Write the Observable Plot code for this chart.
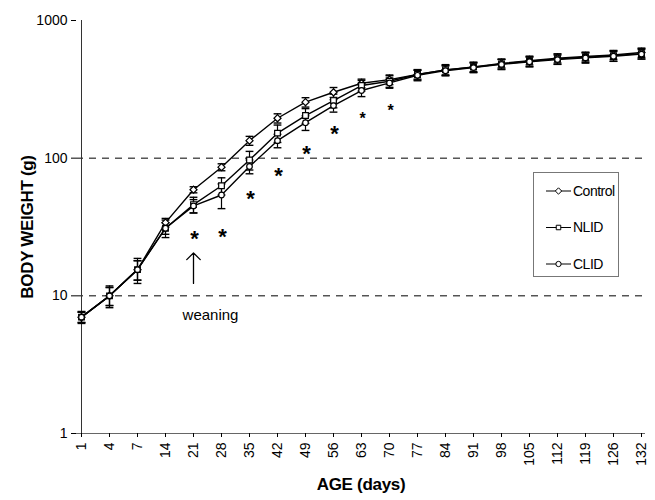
<!DOCTYPE html>
<html>
<head>
<meta charset="utf-8">
<script src="https://cdn.jsdelivr.net/npm/d3@7"></script>
<script src="https://cdn.jsdelivr.net/npm/@observablehq/plot@0.6"></script>
<style>
  html, body { margin: 0; padding: 0; background: #fff; }
  #wrap { position: relative; width: 655px; height: 500px; font-family: "Liberation Sans", Arial, sans-serif; }
  #wrap svg [aria-label="x-axis label"] text, #wrap svg [aria-label="y-axis label"] text { font-weight: bold; font-size: 17px; letter-spacing: -0.3px; }
  #legend { position: absolute; left: 533px; top: 172px; width: 84px; height: 103px; border: 1px solid #777; background: #fff; }
</style>
</head>
<body>
<div id="wrap"></div>
<script>
const ages = ["1","4","7","14","21","28","35","42","49","56","63","70","77","84","91","98","105","112","119","126","132"];
const control = [7, 10, 15.5, 34, 59, 86, 134, 195, 255, 301, 350, 372, 405, 438, 460, 488, 510, 532, 548, 562, 585];
const nlid    = [7, 10, 15.5, 31, 46, 63, 97, 152, 204, 262, 337, 362, 405, 438, 458, 484, 506, 526, 541, 556, 575];
const clid    = [7, 10, 15.5, 31, 45, 54, 87, 134, 181, 241, 310, 352, 400, 432, 455, 480, 502, 520, 535, 550, 570];
const controlErr = [0.6, 1.5, 2.5, 2.5, 3, 5, 10, 15, 20, 25, 25, 30, 30, 35, 35, 35, 35, 40, 40, 40, 45];
const nlidErr    = [0.7, 1.8, 3.2, 4.5, 6, 9, 15, 22, 25, 30, 30, 35, 35, 40, 40, 40, 45, 45, 45, 50, 50];
const clidErr    = [0.6, 1.5, 2.5, 3, 5, 11, 10, 15, 22, 25, 30, 30, 35, 35, 35, 40, 40, 40, 45, 45, 45];
const seriesNames = ["Control", "NLID", "CLID"];
const seriesSymbols = ["diamond2", "square", "circle"];
const starAges = ["21","28","35","42","49","56","63","70"];
const starValues = [28.5, 29.5, 56, 82, 119, 167, 214, 245];
const starSizes = [22, 22, 22, 22, 22, 22, 16, 16];
const gridValues = [10, 100];
const yTicks = [1, 10, 100, 1000];
const arrowData = [{age: "21", from: 12.3, to: 20.5}];
const weaningLabel = [{age: "21", value: 7.2, text: "weaning"}];

const seriesVals = [control, nlid, clid];
const seriesErrs = [controlErr, nlidErr, clidErr];
const rows = [];
seriesNames.forEach((s, si) => {
  ages.forEach((a, i) => {
    rows.push({series: s, age: a, value: seriesVals[si][i], lo: seriesVals[si][i] - seriesErrs[si][i], hi: seriesVals[si][i] + seriesErrs[si][i]});
  });
});
const stars = starAges.map((a, i) => ({age: a, value: starValues[i], size: starSizes[i]}));

const capSymbol = {
  draw(ctx, size) { const w = Math.sqrt(size); ctx.moveTo(-w, 0); ctx.lineTo(w, 0); }
};

const marks = [
  Plot.ruleY(gridValues, {stroke: "#000", strokeWidth: 1, strokeDasharray: "7,6"}),
  Plot.ruleY([1], {stroke: "#666", strokeWidth: 1}),
  Plot.ruleX([ages[0]], {stroke: "#333", strokeWidth: 1}),
  Plot.axisX({tickRotate: -90, tickSize: 4, tickPadding: 5, label: "AGE (days)", labelArrow: "none", labelAnchor: "center", labelOffset: 56, fontSize: 14}),
  Plot.axisY({ticks: yTicks, tickFormat: d3.format("d"), tickSize: 5, tickPadding: 4, label: "BODY WEIGHT (g)", labelArrow: "none", labelAnchor: "center", labelOffset: 56, fontSize: 14})
];
seriesNames.forEach((s, si) => {
  const d = rows.filter(r => r.series === s);
  marks.push(Plot.ruleX(d, {x: "age", y1: "lo", y2: "hi", stroke: "#000", strokeWidth: 1.2}));
  marks.push(Plot.dot(d, {x: "age", y: "lo", symbol: capSymbol, r: 2.2, stroke: "#000", strokeWidth: 1.4}));
  marks.push(Plot.dot(d, {x: "age", y: "hi", symbol: capSymbol, r: 2.2, stroke: "#000", strokeWidth: 1.4}));
});
seriesNames.forEach((s, si) => {
  const d = rows.filter(r => r.series === s);
  marks.push(Plot.line(d, {x: "age", y: "value", stroke: "#000", strokeWidth: 1.4}));
});
seriesNames.forEach((s, si) => {
  const d = rows.filter(r => r.series === s);
  marks.push(Plot.dot(d, {x: "age", y: "value", symbol: seriesSymbols[si], r: si === 2 ? 2.8 : 3.2, fill: "#fff", stroke: "#000", strokeWidth: 1.2}));
});
marks.push(Plot.text(stars, {x: "age", y: "value", text: () => "*", fontSize: "size", fontWeight: "bold", dx: 1, dy: 6}));
marks.push(Plot.arrow(arrowData, {x1: "age", x2: "age", y1: "from", y2: "to", stroke: "#000", strokeWidth: 1.3, headLength: 11, headAngle: 90}));
marks.push(Plot.text(weaningLabel, {x: "age", y: "value", text: "text", dx: 17, fontSize: 15}));

const chart = Plot.plot({
  width: 655, height: 500,
  marginTop: 20, marginLeft: 76, marginRight: 10, marginBottom: 67,
  style: {fontFamily: "'Liberation Sans', Arial, sans-serif", fontSize: "14px", color: "#000", background: "#fff"},
  x: {type: "point", domain: ages, padding: 0},
  y: {type: "log", domain: [1, 1000]},
  marks
});
const wrap = document.getElementById("wrap");
wrap.appendChild(chart);

// legend overlay
const legend = document.createElement("div");
legend.id = "legend";
const lsvg = d3.create("svg").attr("width", 84).attr("height", 103)
  .style("font-family", "'Liberation Sans', Arial, sans-serif").style("font-size", "14px");
const symbolTypes = {diamond2: d3.symbolDiamond2, square: d3.symbolSquare2, circle: d3.symbolCircle};
seriesNames.forEach((s, i) => {
  const g = lsvg.append("g").attr("transform", `translate(0,${18 + i * 36.5})`);
  g.append("line").attr("x1", 12).attr("x2", 37).attr("stroke", "#000").attr("stroke-width", 1);
  g.append("path").attr("transform", "translate(24.5,0)")
    .attr("d", d3.symbol(symbolTypes[seriesSymbols[i]], i === 2 ? 22 : 26)())
    .attr("fill", "#fff").attr("stroke", "#000").attr("stroke-width", 1);
  g.append("text").attr("x", 39).attr("dy", "0.35em").attr("letter-spacing", "-0.5px").text(s);
});
legend.appendChild(lsvg.node());
wrap.appendChild(legend);
</script>
</body>
</html>
